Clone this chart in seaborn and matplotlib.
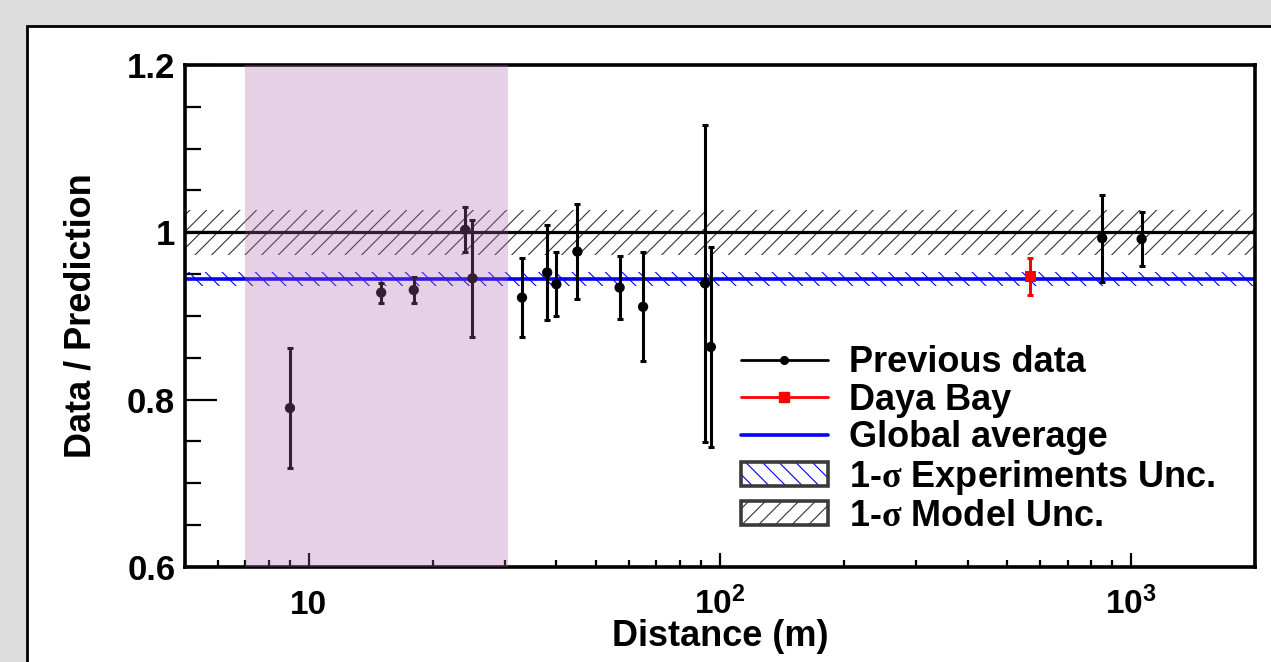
import numpy as np
import pandas as pd
import matplotlib
matplotlib.use("Agg")
import matplotlib.pyplot as plt
import seaborn as sns
from matplotlib.ticker import FixedLocator, LogLocator, NullFormatter
from matplotlib.patches import Patch, Rectangle
from matplotlib.lines import Line2D

# ---------------- data ----------------
prev_dist = [9, 15, 18, 24, 25, 33, 38, 40, 45, 57, 65, 92, 95, 850, 1060]
prev_ratio = [0.790, 0.928, 0.931, 1.003, 0.945, 0.922, 0.952, 0.938, 0.977,
              0.934, 0.911, 0.939, 0.863, 0.993, 0.992]
prev_err = [0.072, 0.012, 0.016, 0.027, 0.070, 0.047, 0.057, 0.038, 0.057,
            0.038, 0.065, 0.189, 0.119, 0.052, 0.032]

dyb_dist = [568]
dyb_ratio = [0.947]
dyb_err = [0.022]

global_avg = 0.944
global_avg_unc = 0.008
model_center = 1.0
model_unc = 0.027

shade_range = [7, 30.5]
x_range = [5, 2000]
y_range = [0.6, 1.2]

y_ticks = [0.6, 0.8, 1.0, 1.2]
y_ticklabels = ["0.6", "0.8", "1", "1.2"]
x_ticks = [10, 100, 1000]
x_ticklabels = ["10", r"$\mathbf{10^{2}}$", r"$\mathbf{10^{3}}$"]

legend_labels = ["Previous data", "Daya Bay", "Global average",
                 r"1-$\mathrm{\sigma}$ Experiments Unc.",
                 r"1-$\mathrm{\sigma}$ Model Unc."]

# ---------------- style ----------------
sns.set_theme(style="white")
plt.rcParams.update({
    "font.family": ["Liberation Sans", "DejaVu Sans"],
    "font.weight": "bold",
    "text.color": "black",
    "axes.labelcolor": "black",
    "xtick.color": "black",
    "ytick.color": "black",
    "mathtext.fontset": "custom",
    "mathtext.rm": "Liberation Serif",
    "mathtext.it": "Liberation Serif:italic",
    "mathtext.bf": "Liberation Sans:bold",
    "hatch.linewidth": 0.8,
})

W, H = 1271, 662
fig = plt.figure(figsize=(W / 100, H / 100), dpi=100, facecolor="#dddddd")
# white pad with black frame
fig.patches.append(Rectangle((27 / W, -0.1), 1.2, (1 - 26 / H) + 0.1,
                             transform=fig.transFigure, facecolor="white",
                             edgecolor="black", lw=2, zorder=-1))

ax = fig.add_axes([185 / W, 1 - 567 / H, (1255 - 185) / W, (567 - 65) / H])
ax.set_facecolor("white")
ax.set_xscale("log")
ax.set_xlim(*x_range)
ax.set_ylim(*y_range)

xs = np.array(x_range, dtype=float)
# model uncertainty band (black hatch)
ax.fill_between(xs, model_center - model_unc, model_center + model_unc,
                facecolor="none", edgecolor="#333333", hatch="//", lw=0, zorder=1)
ax.axhline(model_center, color="black", lw=2.3, zorder=2)
# global average band (blue hatch)
ax.fill_between(xs, global_avg - global_avg_unc, global_avg + global_avg_unc,
                facecolor="none", edgecolor="blue", hatch="\\\\", lw=0, zorder=1)
ax.axhline(global_avg, color="blue", lw=2.6, zorder=2)

# previous data
ax.errorbar(prev_dist, prev_ratio, yerr=prev_err, fmt="none", ecolor="black",
            elinewidth=2.2, capsize=2.5, capthick=2.2, zorder=3)
df_prev = pd.DataFrame({"d": prev_dist, "r": prev_ratio})
sns.scatterplot(data=df_prev, x="d", y="r", ax=ax, color="black", s=55,
                marker="o", edgecolor="none", zorder=4, legend=False)

# Daya Bay
ax.errorbar(dyb_dist, dyb_ratio, yerr=dyb_err, fmt="none", ecolor="red",
            elinewidth=2.2, capsize=2.5, capthick=2.2, zorder=3)
df_dyb = pd.DataFrame({"d": dyb_dist, "r": dyb_ratio})
sns.scatterplot(data=df_dyb, x="d", y="r", ax=ax, color="red", s=60,
                marker="s", edgecolor="none", zorder=4, legend=False)

# shaded region on top
ax.axvspan(shade_range[0], shade_range[1], color="#aa64aa", alpha=0.3,
           lw=0, zorder=10)

# spines
for side in ["left", "bottom", "top", "right"]:
    ax.spines[side].set_color("black")
    ax.spines[side].set_linewidth(2.6)
    ax.spines[side].set_visible(True)

# ticks
ax.yaxis.set_major_locator(FixedLocator(y_ticks))
ax.yaxis.set_minor_locator(FixedLocator(np.arange(0.65, 1.2, 0.05)))
ax.xaxis.set_major_locator(FixedLocator(x_ticks))
ax.xaxis.set_minor_locator(LogLocator(base=10, subs=np.arange(2, 10)))
ax.xaxis.set_minor_formatter(NullFormatter())
ax.tick_params(which="both", direction="in", top=False, right=False,
               left=True, bottom=True, color="black", width=1.6,
               labelcolor="black")
ax.tick_params(axis="y", which="major", length=23, pad=7, labelsize=25)
ax.tick_params(axis="y", which="minor", length=11.5)
ax.tick_params(axis="x", which="major", length=10, pad=34, labelsize=24)
ax.tick_params(axis="x", which="minor", length=5)
ax.set_yticklabels(y_ticklabels, fontsize=25, fontweight="bold", color="black")
ax.set_xticklabels(x_ticklabels, fontsize=24, fontweight="bold", va="baseline",
                   color="black")

ax.set_xlabel("Distance (m)", fontsize=26, fontweight="bold", color="black")
ax.set_ylabel("Data / Prediction", fontsize=26, fontweight="bold", color="black")
ax.xaxis.set_label_coords(0.5, -0.103)
ax.yaxis.set_label_coords(-0.081, 0.5)

# legend
handles = [
    Line2D([0], [0], color="black", lw=2, marker="o", ms=5.5),
    Line2D([0], [0], color="red", lw=2, marker="s", ms=6.5),
    Line2D([0], [0], color="blue", lw=2.6),
    (Patch(facecolor="white", edgecolor="blue", hatch="\\\\", lw=0),
     Patch(facecolor="none", edgecolor="#3a3a3a", lw=2.6)),
    (Patch(facecolor="white", edgecolor="#333333", hatch="//", lw=0),
     Patch(facecolor="none", edgecolor="#3a3a3a", lw=2.6)),
]
leg = ax.legend(handles, legend_labels, loc="upper left",
                bbox_to_anchor=(741 / W, 1 - 345 / H),
                bbox_transform=fig.transFigure, frameon=False,
                prop={"family": ["Liberation Sans"], "weight": "bold", "size": 26},
                handlelength=2.4, handleheight=0.65, handletextpad=0.6,
                labelspacing=0.07, borderpad=0, borderaxespad=0,
                labelcolor="black")

fig.savefig("out.png", dpi=100, facecolor=fig.get_facecolor())
